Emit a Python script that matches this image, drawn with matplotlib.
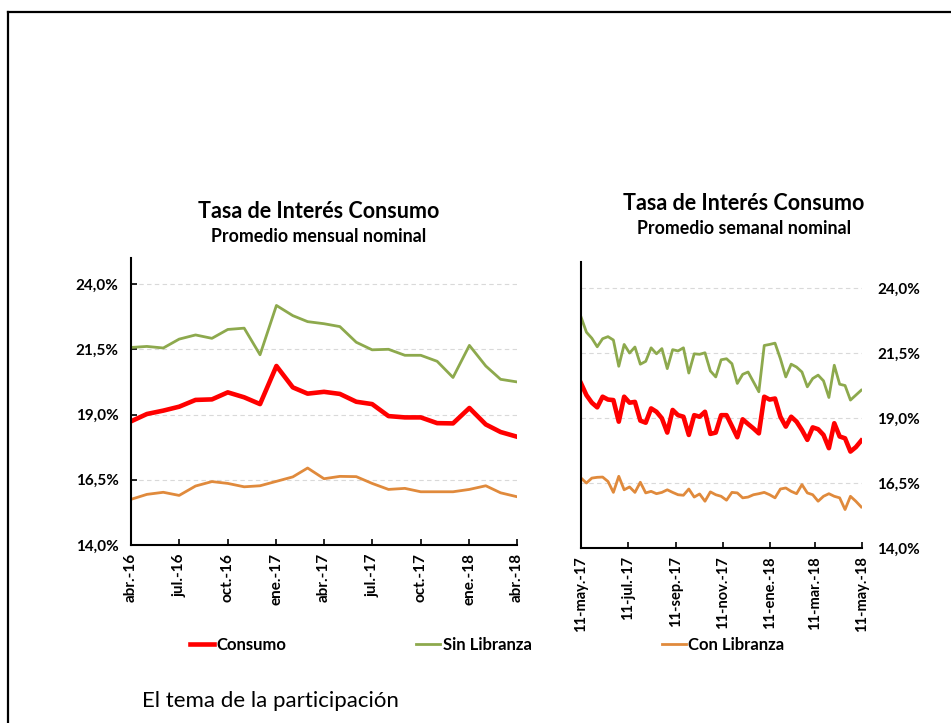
import pandas as pd
import matplotlib.pyplot as plt
from matplotlib.lines import Line2D

plt.rcParams['font.family'] = ['Lato', 'DejaVu Sans']

# Datos mensuales (abr-16 a abr-18)
meses = pd.date_range("2016-04-01", periods=25, freq="MS")
consumo_mes = [18.74, 19.02, 19.15, 19.30, 19.56, 19.58, 19.85, 19.66, 19.40, 20.86,
               20.04, 19.80, 19.87, 19.79, 19.49, 19.40, 18.94, 18.89, 18.89, 18.67,
               18.66, 19.25, 18.62, 18.33, 18.15]
sin_libranza_mes = [21.57, 21.61, 21.55, 21.89, 22.05, 21.92, 22.26, 22.31, 21.29, 23.18,
                    22.79, 22.56, 22.48, 22.37, 21.77, 21.48, 21.50, 21.27, 21.27, 21.04,
                    20.42, 21.65, 20.86, 20.35, 20.25]
con_libranza_mes = [15.75, 15.94, 16.02, 15.90, 16.26, 16.43, 16.36, 16.23, 16.27, 16.44,
                    16.61, 16.95, 16.54, 16.63, 16.62, 16.36, 16.13, 16.17, 16.04, 16.04,
                    16.04, 16.13, 16.27, 16.00, 15.85]
etiquetas_mes = ["abr.-16", "jul.-16", "oct.-16", "ene.-17", "abr.-17",
                 "jul.-17", "oct.-17", "ene.-18", "abr.-18"]

# Datos semanales (11-may-17 a 11-may-18)
semanas = pd.date_range("2017-05-11", periods=53, freq="7D")
consumo_sem = [20.33, 19.88, 19.59, 19.41, 19.82, 19.71, 19.69, 18.86, 19.82, 19.59,
               19.62, 18.90, 18.82, 19.37, 19.24, 18.99, 18.44, 19.31, 19.11, 19.05,
               18.35, 19.11, 19.05, 19.24, 18.39, 18.44, 19.11, 19.11, 18.69, 18.26,
               18.95, 18.77, 18.60, 18.41, 19.82, 19.71, 19.75, 19.05, 18.67, 19.05,
               18.86, 18.54, 18.16, 18.64, 18.57, 18.35, 17.84, 18.80, 18.29, 18.22,
               17.71, 17.88, 18.13]
sin_libranza_sem = [22.88, 22.30, 22.07, 21.74, 22.05, 22.13, 22.00, 20.99, 21.83, 21.50,
                    21.73, 21.07, 21.18, 21.70, 21.47, 21.67, 20.90, 21.63, 21.58, 21.70,
                    20.73, 21.47, 21.45, 21.51, 20.81, 20.58, 21.24, 21.28, 21.09, 20.33,
                    20.68, 20.77, 20.39, 20.01, 21.79, 21.83, 21.88, 21.28, 20.58, 21.07,
                    20.96, 20.77, 20.20, 20.52, 20.65, 20.43, 19.79, 21.03, 20.30, 20.25,
                    19.69, 19.88, 20.07]
con_libranza_sem = [16.69, 16.50, 16.69, 16.72, 16.73, 16.56, 16.14, 16.76, 16.24, 16.35,
                    16.14, 16.53, 16.12, 16.18, 16.09, 16.14, 16.24, 16.14, 16.05, 16.03,
                    16.27, 15.96, 16.08, 15.80, 16.16, 16.05, 15.99, 15.84, 16.14, 16.12,
                    15.93, 15.96, 16.05, 16.09, 16.14, 16.05, 15.93, 16.27, 16.31, 16.18,
                    16.09, 16.44, 16.12, 16.05, 15.80, 15.99, 16.09, 15.99, 15.93, 15.48,
                    15.99, 15.80, 15.58]
fechas_sem = pd.to_datetime(["2017-05-11", "2017-07-11", "2017-09-11", "2017-11-11",
                             "2018-01-11", "2018-03-11", "2018-05-11"])
etiquetas_sem = ["11-may.-17", "11-jul.-17", "11-sep.-17", "11-nov.-17",
                 "11-ene.-18", "11-mar.-18", "11-may.-18"]

y_ticks = [14.0, 16.5, 19.0, 21.5, 24.0]
y_etiquetas = ["14,0%", "16,5%", "19,0%", "21,5%", "24,0%"]

rojo = "#FF0000"
verde = "#8DA94D"
naranja = "#E08A3C"

fig = plt.figure(figsize=(9.51, 7.23), dpi=100)

# Grafico mensual
ax1 = fig.add_axes([0.1378, 0.2462, 0.4058, 0.397])
l1, = ax1.plot(meses, consumo_mes, color=rojo, lw=3.3, solid_joinstyle="round")
l2, = ax1.plot(meses, sin_libranza_mes, color=verde, lw=2.0)
l3, = ax1.plot(meses, con_libranza_mes, color=naranja, lw=2.0)
ax1.set_xlim(meses[0], meses[-1])
ax1.set_ylim(14, 25)
ax1.set_xticks(meses[::3])
ax1.set_xticklabels(etiquetas_mes, rotation=90, fontweight="bold", fontsize=11)
ax1.set_yticks(y_ticks)
ax1.set_yticklabels(y_etiquetas, fontweight="bold", fontsize=11)
ax1.tick_params(axis="both", direction="in", length=4, width=1.2)
ax1.tick_params(axis="y", pad=9)
ax1.tick_params(axis="x", pad=6)
ax1.spines[["top", "right"]].set_visible(False)
ax1.spines[["left", "bottom"]].set_linewidth(1.5)
ax1.yaxis.grid(True, linestyle=(0, (4, 3)), color="#d9d9d9", lw=0.8)
ax1.set_axisbelow(True)

# Grafico semanal
ax2 = fig.add_axes([0.611, 0.2420, 0.2954, 0.3956])
ax2.plot(semanas, consumo_sem, color=rojo, lw=3.3, solid_joinstyle="round")
ax2.plot(semanas, sin_libranza_sem, color=verde, lw=2.0)
ax2.plot(semanas, con_libranza_sem, color=naranja, lw=2.0)
ax2.set_xlim(fechas_sem[0], fechas_sem[-1])
ax2.set_ylim(14, 25)
ax2.set_xticks(fechas_sem)
ax2.set_xticklabels(etiquetas_sem, rotation=90, fontweight="bold", fontsize=10.5)
ax2.yaxis.tick_right()
ax2.set_yticks(y_ticks)
ax2.set_yticklabels(y_etiquetas, fontweight="bold", fontsize=11)
ax2.tick_params(axis="x", direction="in", length=4, width=1.2, pad=6)
ax2.tick_params(axis="y", length=0, pad=11)
ax2.spines[["top", "right"]].set_visible(False)
ax2.spines[["left", "bottom"]].set_linewidth(1.5)
ax2.yaxis.grid(True, linestyle=(0, (4, 3)), color="#d9d9d9", lw=0.8)
ax2.set_axisbelow(True)

# Titulos
fig.text(319 / 951, 1 - 211 / 723, "Tasa de Interés Consumo", ha="center", va="center",
         fontsize=15.5, fontweight="bold")
fig.text(319 / 951, 1 - 237 / 723, "Promedio mensual nominal", ha="center", va="center",
         fontsize=12.8, fontweight="bold")
fig.text(744 / 951, 1 - 204 / 723, "Tasa de Interés Consumo", ha="center", va="center",
         fontsize=15.5, fontweight="bold")
fig.text(744 / 951, 1 - 229 / 723, "Promedio semanal nominal", ha="center", va="center",
         fontsize=12.8, fontweight="bold")

# Leyenda
leg = fig.legend([l1, l2, l3], ["Consumo", "Sin Libranza", "Con Libranza"],
                 loc="center", bbox_to_anchor=(487 / 951, 1 - 645 / 723), ncol=3,
                 frameon=False, handlelength=1.45, handletextpad=0.15, columnspacing=7.8,
                 prop={"weight": "bold", "size": 12})

fig.text(142 / 951, 1 - 701 / 723, "El tema de la participación", ha="left", va="center",
         fontsize=16)

# Marco
y_top = 1 - 12 / 723
x_left = 8 / 951
fig.add_artist(Line2D([x_left, 1], [y_top, y_top], color="black", lw=1.6))
fig.add_artist(Line2D([x_left, x_left], [y_top, 0], color="black", lw=1.6))

plt.savefig("out.png", dpi=100)
